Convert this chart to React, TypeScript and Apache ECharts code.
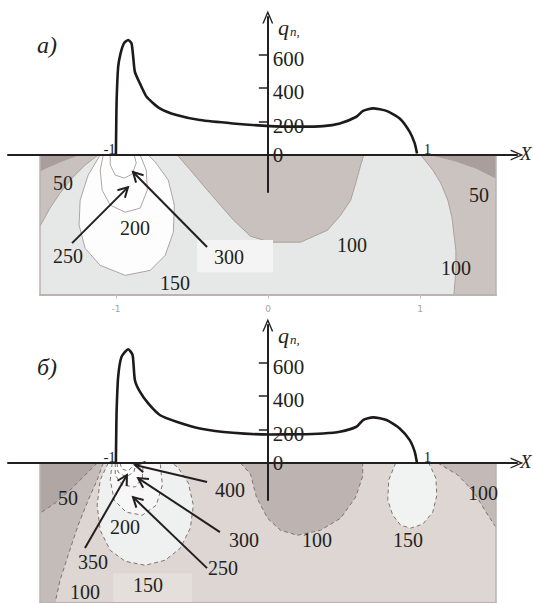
import React, { useEffect, useRef } from "react";
import * as echarts from "echarts";

// ---------- data ----------
const yTickValues = [0, 200, 400, 600];
const depthTickValues = [-1, 0, 1];

// q_n distribution, panel а)
const curveA: [number, number][] = [
  [-1.0, 0], [-0.998, 150], [-0.995, 328], [-0.985, 527], [-0.969, 607], [-0.947, 667],
  [-0.919, 687], [-0.897, 667], [-0.886, 587], [-0.875, 497], [-0.842, 428], [-0.798, 348],
  [-0.711, 279], [-0.601, 239], [-0.447, 209], [-0.23, 189], [0.013, 173], [0.2, 170],
  [0.364, 173], [0.474, 189], [0.583, 229], [0.627, 264], [0.693, 279], [0.781, 264],
  [0.868, 219], [0.934, 139], [0.967, 70], [0.982, 10],
];
// q_n distribution, panel б)
const curveB: [number, number][] = [
  [-1.0, 0], [-0.998, 150], [-0.995, 316], [-0.985, 515], [-0.963, 634], [-0.919, 679],
  [-0.89, 645], [-0.875, 496], [-0.842, 426], [-0.787, 356], [-0.711, 287], [-0.601, 247],
  [-0.447, 207], [-0.23, 181], [0.013, 171], [0.2, 172], [0.364, 177], [0.474, 187],
  [0.583, 217], [0.627, 257], [0.693, 273], [0.781, 257], [0.868, 207], [0.934, 137],
  [0.967, 67], [0.982, 0],
];

// contour regions, panel а)  [x, depth]
const boxA = [[-1.5, 0], [1.5, 0], [1.5, -0.92], [-1.5, -0.92]];
const bandALeft = [[-1.5, 0], [-1.117, 0], [-1.203, -0.066], [-1.289, -0.152], [-1.368, -0.25], [-1.434, -0.349], [-1.5, -0.468]];
const cornerALeft = [[-1.5, 0], [-1.249, 0], [-1.355, -0.04], [-1.447, -0.079], [-1.5, -0.105]];
const centerA = [[-0.597, 0], [-0.511, -0.099], [-0.399, -0.231], [-0.313, -0.33], [-0.227, -0.428], [-0.115, -0.534], [0.016, -0.573], [0.214, -0.573], [0.392, -0.494], [0.478, -0.396], [0.544, -0.297], [0.583, -0.165], [0.61, -0.066], [0.63, 0]];
const rightA = [[1.005, 0], [1.084, -0.099], [1.137, -0.185], [1.183, -0.297], [1.21, -0.409], [1.236, -0.626], [1.236, -0.758], [1.223, -0.92], [1.5, -0.92], [1.5, 0]];
const cornerARight = [[1.079, 0], [1.236, -0.04], [1.368, -0.086], [1.5, -0.152], [1.5, 0]];
const ellipseA = [[-1.104, 0], [-1.183, -0.132], [-1.236, -0.297], [-1.243, -0.461], [-1.203, -0.613], [-1.104, -0.725], [-0.939, -0.791], [-0.775, -0.758], [-0.676, -0.659], [-0.623, -0.508], [-0.616, -0.33], [-0.656, -0.165], [-0.742, -0.046], [-0.788, 0]];
const c250A = [[-1.084, 0], [-1.104, -0.099], [-1.091, -0.231], [-1.038, -0.33], [-0.939, -0.376], [-0.841, -0.349], [-0.794, -0.231], [-0.801, -0.099], [-0.841, 0]];
const c300A = [[-1.038, 0], [-1.038, -0.066], [-1.005, -0.132], [-0.946, -0.152], [-0.893, -0.125], [-0.867, -0.053], [-0.88, 0]];
const label300BoxA = [[-0.467, -0.559], [0.033, -0.559], [0.033, -0.77], [-0.467, -0.77]];

// contour regions, panel б)
const boxB = [[-1.5, 0], [1.5, 0], [1.5, -0.92], [-1.5, -0.92]];
const bandBLeft = [[-1.5, 0], [-1.084, 0], [-1.124, -0.112], [-1.183, -0.244], [-1.249, -0.409], [-1.315, -0.606], [-1.368, -0.771], [-1.401, -0.92], [-1.5, -0.92]];
const cornerBLeft = [[-1.5, 0], [-1.124, 0], [-1.203, -0.079], [-1.302, -0.178], [-1.401, -0.264], [-1.5, -0.33]];
const centerB = [[-0.181, 0], [-0.115, -0.073], [-0.076, -0.224], [-0.003, -0.363], [0.082, -0.442], [0.194, -0.475], [0.346, -0.442], [0.478, -0.363], [0.577, -0.224], [0.623, -0.086], [0.623, 0]];
const rightB = [[1.117, 0], [1.249, -0.079], [1.355, -0.191], [1.434, -0.323], [1.5, -0.422], [1.5, 0]];
const ovalB = [[0.84, 0], [0.794, -0.112], [0.788, -0.244], [0.821, -0.343], [0.873, -0.409], [0.939, -0.428], [1.018, -0.402], [1.084, -0.323], [1.111, -0.211], [1.104, -0.099], [1.058, 0]];
const ellipseB = [[-1.051, 0], [-1.104, -0.112], [-1.124, -0.277], [-1.104, -0.442], [-1.038, -0.574], [-0.939, -0.646], [-0.808, -0.672], [-0.676, -0.639], [-0.577, -0.56], [-0.511, -0.428], [-0.491, -0.277], [-0.524, -0.132], [-0.59, -0.033], [-0.63, 0]];
const c250B = [[-1.025, 0], [-1.038, -0.112], [-1.012, -0.244], [-0.933, -0.323], [-0.827, -0.343], [-0.735, -0.277], [-0.695, -0.145], [-0.709, 0]];
const c300B = [[-1.005, 0], [-1.005, -0.079], [-0.959, -0.145], [-0.873, -0.158], [-0.827, -0.099], [-0.821, 0]];
const c350B = [[-0.993, 0], [-0.987, -0.059], [-0.934, -0.092], [-0.882, -0.059], [-0.868, 0]];
const c400B = [[-0.974, 0], [-0.961, -0.039], [-0.921, -0.053], [-0.895, -0.026], [-0.895, 0]];
const label150BoxB = [[-1.02, -0.726], [-0.5, -0.726], [-0.5, -0.92], [-1.02, -0.92]];

// contour labels [x, depth, text]
const labelsA: [number, number, string][] = [
  [-1.349, -0.184, "50"], [-0.875, -0.48, "200"], [-1.316, -0.664, "250"], [-0.257, -0.671, "300"],
  [-0.612, -0.842, "150"], [0.553, -0.589, "100"], [1.237, -0.74, "100"], [1.388, -0.26, "50"],
];
const labelsB: [number, number, string][] = [
  [-1.316, -0.23, "50"], [-0.25, -0.178, "400"], [-0.941, -0.421, "200"], [-0.158, -0.507, "300"],
  [-1.151, -0.651, "350"], [-0.296, -0.691, "250"], [-0.789, -0.803, "150"], [-1.204, -0.849, "100"],
  [0.322, -0.507, "100"], [0.921, -0.507, "150"], [1.414, -0.197, "100"],
];
// arrows [x1, y1, x2, y2] (tail -> head)
const arrowsA: [number, number, number, number][] = [
  [-1.289, -0.579, -0.921, -0.211],
  [-0.401, -0.605, -0.888, -0.112],
];
const arrowsB: [number, number, number, number][] = [
  [-0.401, -0.125, -0.875, -0.013],
  [-0.316, -0.454, -0.855, -0.099],
  [-0.401, -0.691, -0.888, -0.224],
  [-1.204, -0.559, -0.928, -0.079],
];
// labels on the X axis of the q_n plot
const endLabels: [number, number, string][] = [[-1, 0, "-1"], [1, 0, "1"]];

// ---------- styling ----------
const SERIF = '"Liberation Serif", "DejaVu Serif", serif';
const INK = "#231f20";
const ARROW = "path://M0,14 L6,0 L12,14 L10.4,14 L6,3.6 L1.6,14 Z";

type Region = { pts: number[][]; fill: string; line: boolean };

const regionsA: Region[] = [
  { pts: boxA, fill: "#e6e8e7", line: false },
  { pts: bandALeft, fill: "#c9c1be", line: true },
  { pts: cornerALeft, fill: "#aa9e9a", line: true },
  { pts: centerA, fill: "#c9c1be", line: true },
  { pts: rightA, fill: "#cbc3c0", line: true },
  { pts: cornerARight, fill: "#aa9e9a", line: true },
  { pts: ellipseA, fill: "#fdfdfd", line: true },
  { pts: c250A, fill: "#fefefe", line: true },
  { pts: c300A, fill: "#ffffff", line: true },
  { pts: label300BoxA, fill: "#f3f4f3", line: false },
];
const regionsB: Region[] = [
  { pts: boxB, fill: "#ddd6d2", line: false },
  { pts: bandBLeft, fill: "#c4bcb9", line: true },
  { pts: cornerBLeft, fill: "#b0a6a3", line: true },
  { pts: centerB, fill: "#bdb4b1", line: true },
  { pts: rightB, fill: "#c3bab7", line: true },
  { pts: ovalB, fill: "#f1f3f2", line: true },
  { pts: ellipseB, fill: "#eef1ef", line: true },
  { pts: c250B, fill: "#f6f7f6", line: true },
  { pts: c300B, fill: "#fafafa", line: true },
  { pts: c350B, fill: "#fcfcfc", line: true },
  { pts: c400B, fill: "#ffffff", line: true },
  { pts: label150BoxB, fill: "#e4dfdb", line: false },
];

function onEdge(a: number[], b: number[]) {
  if (a[1] === 0 && b[1] === 0) return true;
  if (a[0] === b[0] && Math.abs(a[0]) === 1.5) return true;
  if (a[1] === b[1] && a[1] === -0.92) return true;
  return false;
}

function regionSeries(g: number, regions: Region[], stroke: string, lineWidth: number, dash: number[] | null) {
  return {
    type: "custom",
    xAxisIndex: g,
    yAxisIndex: g,
    z: 1,
    silent: true,
    data: regions.map((r) => r.pts[0]),
    renderItem: (params: any, api: any) => {
      const r = regions[params.dataIndex];
      const children: any[] = [
        { type: "polygon", shape: { points: r.pts.map((p) => api.coord(p)) }, style: { fill: r.fill } },
      ];
      if (r.line) {
        const n = r.pts.length;
        let cur: number[][] = [];
        const segs: number[][][] = [];
        for (let i = 0; i < n; i++) {
          const a = r.pts[i];
          const b = r.pts[(i + 1) % n];
          if (onEdge(a, b)) {
            if (cur.length > 1) segs.push(cur);
            cur = [];
          } else {
            if (cur.length === 0) cur.push(api.coord(a));
            cur.push(api.coord(b));
          }
        }
        if (cur.length > 1) segs.push(cur);
        segs.forEach((s) =>
          children.push({
            type: "polyline",
            shape: { points: s },
            style: { fill: null, stroke, lineWidth, lineDash: dash || undefined },
          })
        );
      }
      return { type: "group", children };
    },
  };
}

function labelSeries(g: number, labels: [number, number, string][]) {
  return {
    type: "custom",
    xAxisIndex: g,
    yAxisIndex: g,
    z: 4,
    silent: true,
    data: labels.map((l) => [l[0], l[1]]),
    renderItem: (params: any, api: any) => {
      const l = labels[params.dataIndex];
      const p = api.coord([l[0], l[1]]);
      return {
        type: "text",
        x: p[0],
        y: p[1],
        style: { text: l[2], fill: INK, fontSize: 20, fontFamily: SERIF, align: "center", verticalAlign: "middle" },
      };
    },
  };
}

function arrowSeries(g: number, arrows: [number, number, number, number][]) {
  return {
    type: "custom",
    xAxisIndex: g,
    yAxisIndex: g,
    z: 5,
    silent: true,
    data: arrows.map((a) => [a[0], a[1]]),
    renderItem: (params: any, api: any) => {
      const a = arrows[params.dataIndex];
      const p1 = api.coord([a[0], a[1]]);
      const p2 = api.coord([a[2], a[3]]);
      const ang = Math.atan2(p2[1] - p1[1], p2[0] - p1[0]);
      const L = 11;
      const s = 0.5;
      const h1 = [p2[0] - L * Math.cos(ang - s), p2[1] - L * Math.sin(ang - s)];
      const h2 = [p2[0] - L * Math.cos(ang + s), p2[1] - L * Math.sin(ang + s)];
      return {
        type: "group",
        children: [
          { type: "line", shape: { x1: p1[0], y1: p1[1], x2: p2[0], y2: p2[1] }, style: { stroke: INK, lineWidth: 2 } },
          { type: "polyline", shape: { points: [h1, p2, h2] }, style: { fill: null, stroke: INK, lineWidth: 2 } },
        ],
      };
    },
  };
}

function endLabelSeries(g: number) {
  return {
    type: "custom",
    xAxisIndex: g,
    yAxisIndex: g,
    z: 7,
    silent: true,
    data: endLabels.map((l) => [l[0], l[1]]),
    renderItem: (params: any, api: any) => {
      const l = endLabels[params.dataIndex];
      const p = api.coord([l[0], l[1]]);
      const left = l[0] > 0;
      return {
        type: "text",
        x: p[0] + (left ? 4 : 0),
        y: p[1] + 1,
        style: { text: l[2], fill: INK, fontSize: 15, fontFamily: SERIF, align: left ? "left" : "right", verticalAlign: "bottom" },
      };
    },
  };
}

// q_n tick labels, drawn to the right of the vertical axis
function tickLabelSeries(g: number) {
  return {
    type: "custom",
    xAxisIndex: g,
    yAxisIndex: g,
    z: 7,
    silent: true,
    data: yTickValues.map((v) => [0, v]),
    renderItem: (params: any, api: any) => {
      const v = yTickValues[params.dataIndex];
      const p = api.coord([0, v]);
      return {
        type: "text",
        x: p[0] + 5,
        y: p[1] + (v === 0 ? 0 : 4),
        style: { text: String(v), fill: INK, fontSize: 21, fontFamily: SERIF, align: "left", verticalAlign: "middle" },
      };
    },
  };
}

function curveSeries(g: number, data: [number, number][]) {
  return {
    type: "line",
    xAxisIndex: g,
    yAxisIndex: g,
    z: 6,
    data,
    showSymbol: false,
    symbol: "none",
    smooth: 0.2,
    silent: true,
    lineStyle: { color: "#1e1a1a", width: 2.6 },
  };
}

function upperX(g: number) {
  return {
    gridIndex: g,
    type: "value",
    min: -1.71,
    max: 1.64,
    z: 5,
    axisLine: { show: true, onZero: true, symbol: ["none", ARROW], symbolSize: [11, 14], lineStyle: { color: INK, width: 2 } },
    axisTick: { show: false },
    axisLabel: { show: false },
    splitLine: { show: false },
  };
}
function upperY(g: number) {
  return {
    gridIndex: g,
    type: "value",
    min: -220,
    max: 824,
    z: 5,
    axisLine: { show: true, onZero: true, symbol: ["none", ARROW], symbolSize: [11, 14], lineStyle: { color: INK, width: 2 } },
    axisTick: { show: true, customValues: yTickValues.filter((v) => v > 0), length: 9, inside: false, lineStyle: { color: INK, width: 1.5 } },
    axisLabel: { show: false },
    splitLine: { show: false },
  };
}
function lowerX(g: number, labels: boolean) {
  return {
    gridIndex: g,
    type: "value",
    min: -1.5,
    max: 1.5,
    position: "bottom",
    z: 3,
    axisLine: { show: true, onZero: false, lineStyle: { color: "#bab3b0", width: 2 } },
    axisTick: { show: labels, customValues: depthTickValues, length: 4, lineStyle: { color: "#c8c8c8" } },
    axisLabel: { show: labels, customValues: depthTickValues, margin: 9, color: "#a3a3a3", fontSize: 9, fontFamily: '"DejaVu Sans", sans-serif' },
    splitLine: { show: false },
  };
}
function lowerY(g: number) {
  return {
    gridIndex: g,
    type: "value",
    min: -0.92,
    max: 0,
    show: false,
    axisLine: { onZero: false },
    splitLine: { show: false },
  };
}

function qLabel(top: number) {
  return {
    type: "text",
    left: 278,
    top,
    z: 10,
    style: {
      text: "{q|q}{n|n,}",
      rich: {
        q: { fontSize: 22, fontStyle: "italic", fontFamily: SERIF, fill: INK },
        n: { fontSize: 13, fontStyle: "italic", fontFamily: SERIF, fill: INK, padding: [8, 0, 0, 1] },
      },
    },
  };
}

export default function App() {
  const ref = useRef<HTMLDivElement>(null);
  useEffect(() => {
    if (!ref.current) return;
    const chart = echarts.init(ref.current, undefined, { renderer: "svg" });
    chart.setOption({
      animation: false,
      backgroundColor: "#ffffff",
      grid: [
        { left: 8, top: 17, width: 509, height: 175 },
        { left: 40, top: 155, width: 456, height: 140, show: true, borderColor: "#bab3b0", borderWidth: 1.5, z: 2 },
        { left: 8, top: 325, width: 509, height: 175 },
        { left: 40, top: 463, width: 456, height: 140, show: true, borderColor: "#bab3b0", borderWidth: 1.5, z: 2 },
      ],
      xAxis: [upperX(0), lowerX(1, true), upperX(2), lowerX(3, false)],
      yAxis: [upperY(0), lowerY(1), upperY(2), lowerY(3)],
      graphic: [
        { type: "text", left: 37, top: 33, z: 10, style: { text: "а)", fontSize: 24, fontStyle: "italic", fontFamily: SERIF, fill: INK } },
        { type: "text", left: 37, top: 355, z: 10, style: { text: "б)", fontSize: 24, fontStyle: "italic", fontFamily: SERIF, fill: INK } },
        qLabel(16),
        qLabel(324),
        { type: "text", left: 520, top: 144, z: 10, style: { text: "X", fontSize: 19, fontStyle: "italic", fontFamily: SERIF, fill: INK } },
        { type: "text", left: 520, top: 452, z: 10, style: { text: "X", fontSize: 19, fontStyle: "italic", fontFamily: SERIF, fill: INK } },
      ],
      series: [
        regionSeries(1, regionsA, "#a59c99", 0.9, null),
        labelSeries(1, labelsA),
        arrowSeries(1, arrowsA),
        curveSeries(0, curveA),
        endLabelSeries(0),
        tickLabelSeries(0),
        regionSeries(3, regionsB, "#7e7471", 1, [4, 3]),
        labelSeries(3, labelsB),
        arrowSeries(3, arrowsB),
        curveSeries(2, curveB),
        endLabelSeries(2),
        tickLabelSeries(2),
      ],
    });
    return () => chart.dispose();
  }, []);
  return <div ref={ref} style={{ position: "fixed", left: 0, top: 0, width: 533, height: 603 }} />;
}
